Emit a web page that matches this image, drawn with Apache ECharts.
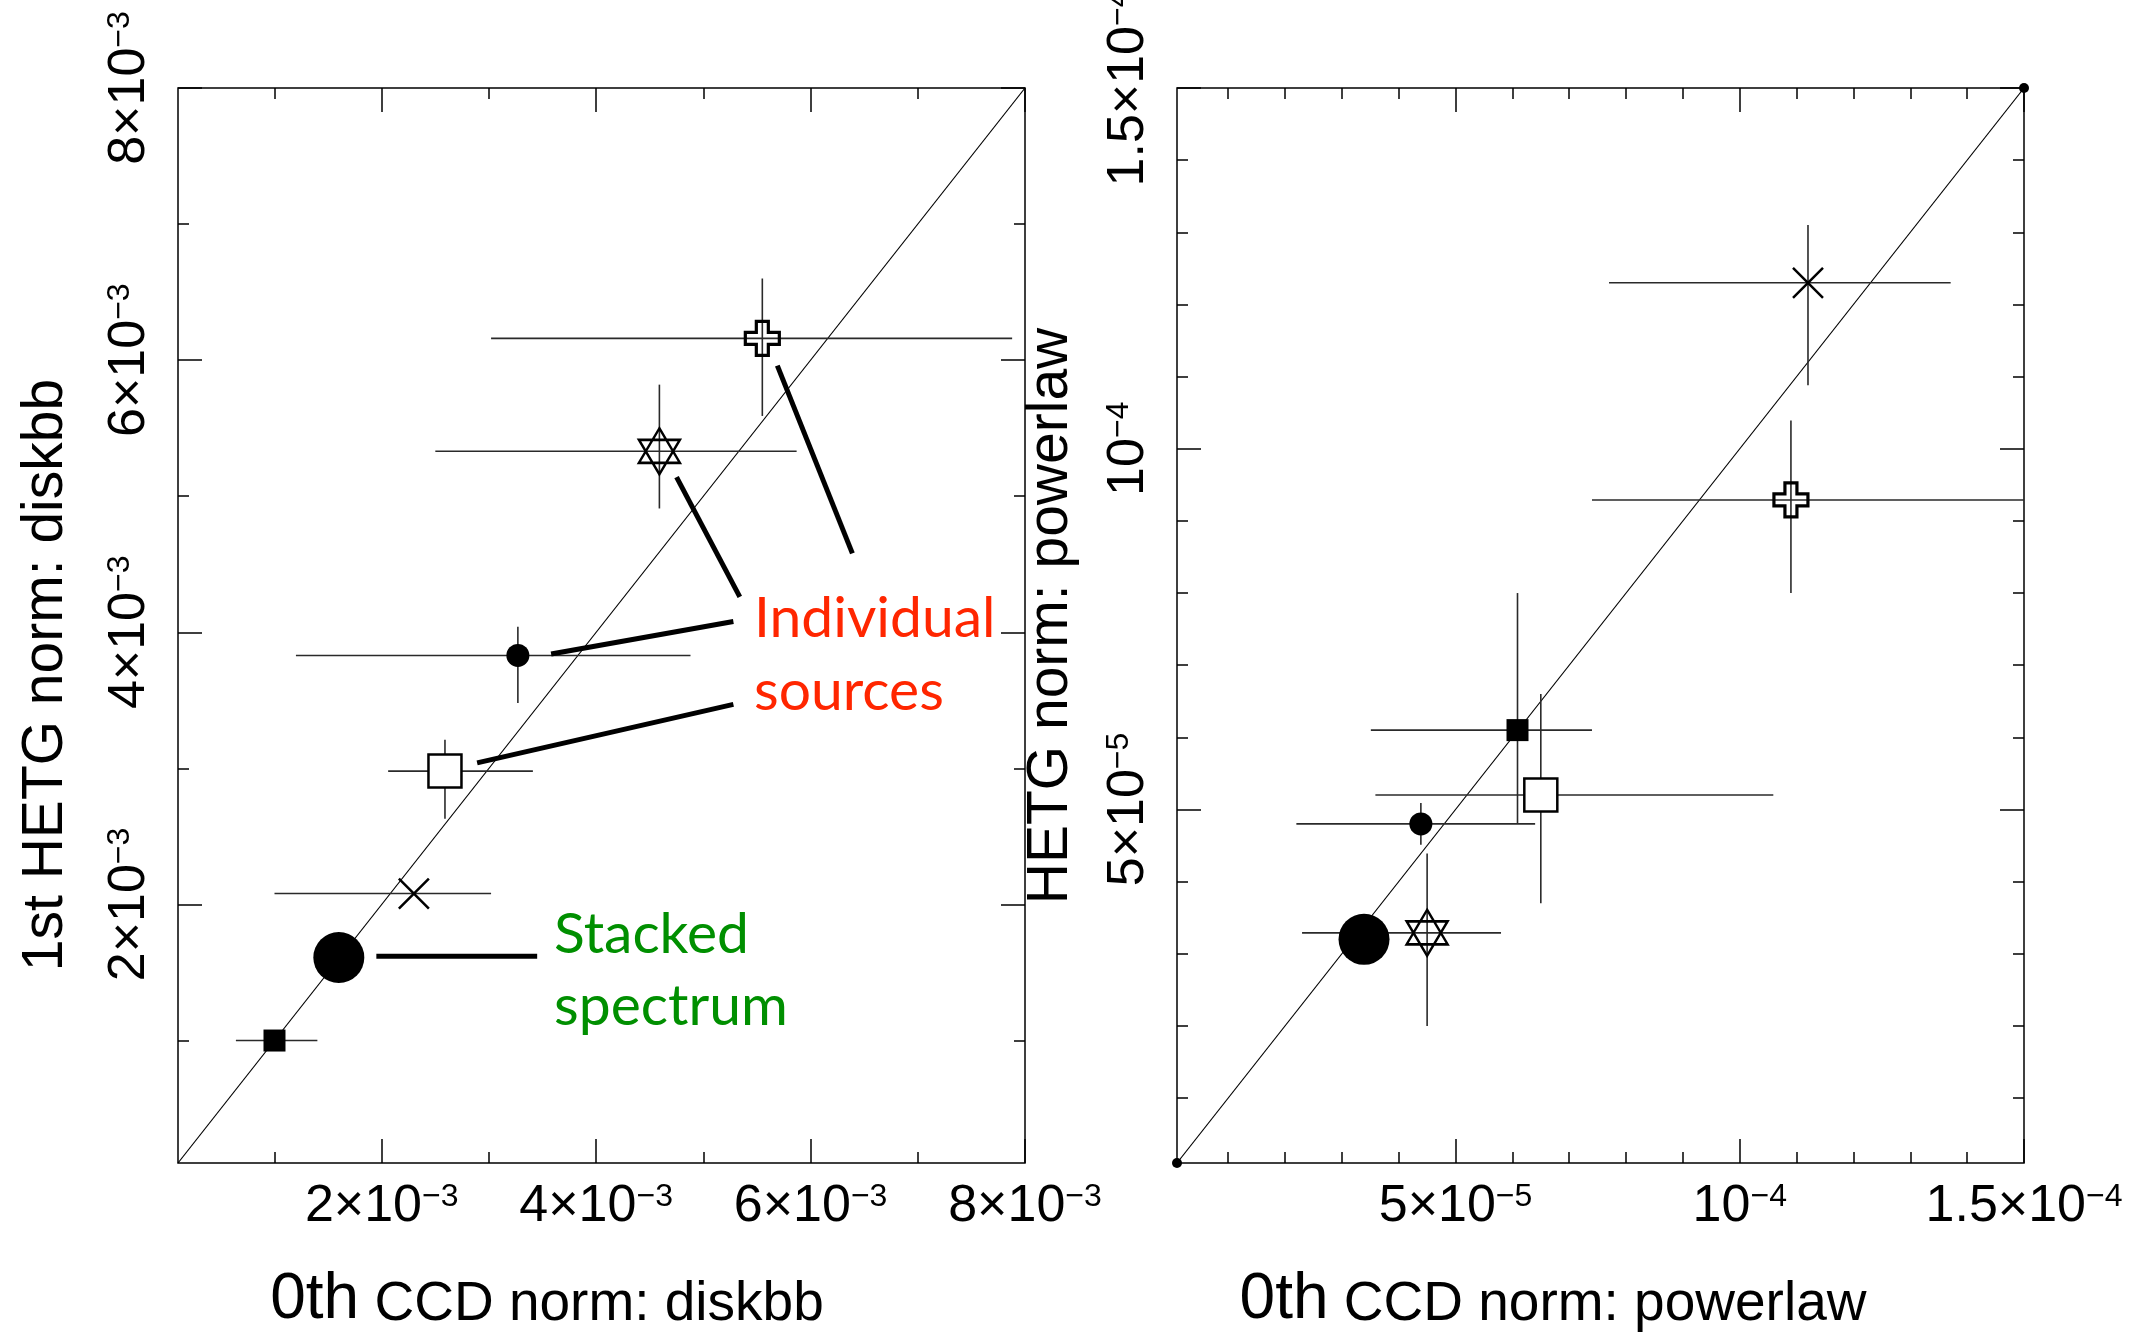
<!DOCTYPE html>
<html>
<head>
<meta charset="utf-8">
<script src="https://cdn.jsdelivr.net/npm/echarts@6/dist/echarts.min.js"></script>
<style>
html, body { margin: 0; padding: 0; background: #fff; }
#chart { width: 2146px; height: 1333px; }
</style>
</head>
<body>
<div id="chart"></div>
<script>
// one entry per source, same order in both panels
var markerKinds = ['filledSquare', 'stacked', 'cross', 'openSquare', 'filledCircle', 'hexagram', 'openPlus'];

// left panel, diskbb norm in units of 1e-3
var diskCcd    = [1.00, 1.60, 2.30, 2.59, 3.27, 4.59, 5.55];
var diskCcdLo  = [0.64, null, 1.00, 2.06, 1.20, 2.50, 3.02];
var diskCcdHi  = [1.40, null, 3.02, 3.41, 4.88, 5.87, 7.88];
var diskHetg   = [1.00, 1.61, 2.08, 2.98, 3.83, 5.33, 6.16];
var diskHetgLo = [null, null, null, 2.63, 3.48, 4.91, 5.59];
var diskHetgHi = [null, null, null, 3.21, 4.04, 5.82, 6.60];

// right panel, powerlaw norm in units of 1e-5
var plawCcd    = [6.09, 3.39, 11.20, 6.50, 4.39, 4.50, 10.90];
var plawCcdLo  = [3.51, null, 7.70, 3.59, 2.20, 2.30, 7.40];
var plawCcdHi  = [7.40, null, 13.71, 10.59, 6.40, 5.80, 15.00];
var plawHetg   = [6.10, 3.20, 12.30, 5.20, 4.80, 3.29, 9.29];
var plawHetgLo = [4.80, null, 10.88, 3.70, 4.51, 2.00, 8.00];
var plawHetgHi = [8.00, null, 13.10, 6.60, 5.09, 4.39, 10.39];

// axis ranges and ticks
var diskRange = [0.1, 8];
var diskMajor = [2, 4, 6, 8];
var diskMinor = [1, 3, 5, 7];
var diskTickText = [['2', '\u22123'], ['4', '\u22123'], ['6', '\u22123'], ['8', '\u22123']];

var plawRange = [0.1, 15];
var plawMajor = [5, 10, 15];
var plawMinor = [1, 2, 3, 4, 6, 7, 8, 9, 11, 12, 13, 14];
var plawTickText = [['5', '\u22125'], ['', '\u22124'], ['1.5', '\u22124']];

// leader lines of the left panel, diskbb units
var leaderX1 = [5.69, 4.75, 3.58, 2.89, 1.95];
var leaderY1 = [5.96, 5.14, 3.84, 3.04, 1.62];
var leaderX2 = [6.39, 5.34, 5.28, 5.28, 3.45];
var leaderY2 = [4.58, 4.26, 4.08, 3.47, 1.62];

var HELV = "'Liberation Sans', Arial, Helvetica, sans-serif";
var HUMAN = "Lato, 'Open Sans', sans-serif";

var markerStyle = {
    filledSquare: { symbol: 'rect', size: 22, fill: '#000' },
    stacked: { symbol: 'circle', size: 51, fill: '#000' },
    cross: { symbol: 'path://M0,0L10,10M10,0L0,10', size: 30, fill: 'transparent', stroke: '#000', width: 2.5 },
    openSquare: { symbol: 'rect', size: 33, fill: '#fff', stroke: '#000', width: 2.5 },
    filledCircle: { symbol: 'circle', size: 23, fill: '#000' },
    hexagram: { symbol: 'path://M50,0L93.3,75L6.7,75ZM50,100L93.3,25L6.7,25Z', size: [41, 46], fill: 'transparent', stroke: '#000', width: 2.5 },
    openPlus: { symbol: 'path://M11,0L23,0L23,11L34,11L34,23L23,23L23,34L11,34L11,23L0,23L0,11L11,11Z', size: 34, fill: 'transparent', stroke: '#000', width: 3.2 }
};

function markerData(xs, ys) {
    return markerKinds.map(function (k, i) {
        var s = markerStyle[k];
        return {
            value: [xs[i], ys[i]],
            symbol: s.symbol,
            symbolSize: s.size,
            itemStyle: { color: s.fill, borderColor: s.stroke || s.fill, borderWidth: s.width || 0, opacity: 1 }
        };
    });
}

function errorSegments(x, xLo, xHi, y, yLo, yHi) {
    var segs = [];
    for (var i = 0; i < x.length; i++) {
        if (xLo[i] != null) segs.push([xLo[i], y[i], xHi[i], y[i]]);
        if (yLo[i] != null) segs.push([x[i], yLo[i], x[i], yHi[i]]);
    }
    return segs;
}

function segmentItem(width, color) {
    return function (params, api) {
        var a = api.coord([api.value(0), api.value(1)]);
        var b = api.coord([api.value(2), api.value(3)]);
        return {
            type: 'line',
            shape: { x1: a[0], y1: a[1], x2: b[0], y2: b[1] },
            style: { stroke: color, lineWidth: width }
        };
    };
}

function tickFormatter(ticks, texts) {
    return function (v) {
        for (var i = 0; i < ticks.length; i++) {
            if (Math.abs(ticks[i] - v) < 1e-9) {
                var t = texts[i];
                return (t[0] ? '{m|' + t[0] + '\u00d710}' : '{m|10}') + '{e|' + t[1] + '}';
            }
        }
        return '';
    };
}

var labelRich = {
    m: { fontSize: 52, fontFamily: HELV, lineHeight: 52, color: '#000' },
    e: { fontSize: 32, fontFamily: HELV, lineHeight: 30, verticalAlign: 'top', color: '#000' }
};

function tick(values, len) {
    return { show: true, inside: true, length: len, customValues: values, lineStyle: { color: '#000', width: 1.5 } };
}

function makeAxes(dim, grid, range, major, minor, texts) {
    var sides = dim === 'x' ? ['bottom', 'top'] : ['left', 'right'];
    var out = [];
    sides.forEach(function (side, si) {
        [[major, 24], [minor, 11]].forEach(function (tk, ti) {
            var withLabel = si === 0 && ti === 0;
            out.push({
                type: 'value',
                gridIndex: grid,
                position: side,
                min: range[0],
                max: range[1],
                axisLine: { show: false },
                splitLine: { show: false },
                minorTick: { show: false },
                axisTick: tick(tk[0], tk[1]),
                axisLabel: withLabel ? {
                    show: true,
                    customValues: major,
                    formatter: tickFormatter(major, texts),
                    rich: labelRich,
                    rotate: dim === 'y' ? 90 : 0,
                    margin: dim === 'y' ? 22 : 18
                } : { show: false, customValues: tk[0] }
            });
        });
    });
    return out;
}

var xAxes = makeAxes('x', 0, diskRange, diskMajor, diskMinor, diskTickText)
    .concat(makeAxes('x', 1, plawRange, plawMajor, plawMinor, plawTickText));
var yAxes = makeAxes('y', 0, diskRange, diskMajor, diskMinor, diskTickText)
    .concat(makeAxes('y', 1, plawRange, plawMajor, plawMinor, plawTickText));

function panelSeries(ax, range, x, xLo, xHi, y, yLo, yHi, endDots) {
    return [{
        type: 'line',
        xAxisIndex: ax, yAxisIndex: ax,
        data: [[range[0], range[0]], [range[1], range[1]]],
        symbol: endDots ? 'circle' : 'none',
        symbolSize: 10,
        itemStyle: { color: '#000' },
        lineStyle: { color: '#000', width: 1.2 },
        clip: false, silent: true, z: 2
    }, {
        type: 'custom',
        xAxisIndex: ax, yAxisIndex: ax,
        data: errorSegments(x, xLo, xHi, y, yLo, yHi),
        encode: { x: [0, 2], y: [1, 3] },
        renderItem: segmentItem(1.6, '#2a2a2a'),
        clip: true, silent: true, z: 3
    }, {
        type: 'scatter',
        xAxisIndex: ax, yAxisIndex: ax,
        data: markerData(x, y),
        itemStyle: { opacity: 1 },
        silent: true, z: 5
    }];
}

var leaders = leaderX1.map(function (v, i) { return [v, leaderY1[i], leaderX2[i], leaderY2[i]]; });

var titleRich = {
    a: { fontSize: 64, fontFamily: HELV, lineHeight: 54, verticalAlign: 'bottom', fill: '#000' },
    b: { fontSize: 55, fontFamily: HELV, lineHeight: 55, verticalAlign: 'bottom', fill: '#000' }
};

var chart = echarts.init(document.getElementById('chart'));
chart.setOption({
    backgroundColor: '#fff',
    animation: false,
    grid: [
        { left: 178, top: 88, width: 847, height: 1075, show: true, borderColor: '#000', borderWidth: 1.5, outerBoundsMode: 'none', containLabel: false },
        { left: 1177, top: 88, width: 847, height: 1075, show: true, borderColor: '#000', borderWidth: 1.5, outerBoundsMode: 'none', containLabel: false }
    ],
    xAxis: xAxes,
    yAxis: yAxes,
    series: panelSeries(0, diskRange, diskCcd, diskCcdLo, diskCcdHi, diskHetg, diskHetgLo, diskHetgHi, false)
        .concat(panelSeries(4, plawRange, plawCcd, plawCcdLo, plawCcdHi, plawHetg, plawHetgLo, plawHetgHi, true))
        .concat([{
            type: 'custom',
            xAxisIndex: 0, yAxisIndex: 0,
            data: leaders,
            encode: { x: [0, 2], y: [1, 3] },
            renderItem: segmentItem(5, '#000'),
            silent: true, z: 4
        }]),
    graphic: [
        { type: 'text', x: 754, y: 619, style: { text: 'Individual', font: '57px ' + HUMAN, fill: '#ff2600', verticalAlign: 'middle' } },
        { type: 'text', x: 754, y: 692, style: { text: 'sources', font: '57px ' + HUMAN, fill: '#ff2600', verticalAlign: 'middle' } },
        { type: 'text', x: 554, y: 935, style: { text: 'Stacked', font: '57px ' + HUMAN, fill: '#008f00', verticalAlign: 'middle' } },
        { type: 'text', x: 554, y: 1007, style: { text: 'spectrum', font: '57px ' + HUMAN, fill: '#008f00', verticalAlign: 'middle' } },
        {
            type: 'text', x: 547, y: 1305,
            style: { text: '{a|0th}{b| CCD norm: diskbb}', align: 'center', verticalAlign: 'middle', rich: titleRich }
        },
        {
            type: 'text', x: 1553, y: 1305,
            style: { text: '{a|0th}{b| CCD norm: powerlaw}', align: 'center', verticalAlign: 'middle', rich: titleRich }
        },
        { type: 'text', x: 46, y: 675, rotation: Math.PI / 2, style: { text: '1st HETG norm: diskbb', font: '57px ' + HELV, fill: '#000', align: 'center', verticalAlign: 'middle' } },
        { type: 'text', x: 1051, y: 616, rotation: Math.PI / 2, style: { text: 'HETG norm: powerlaw', font: '57px ' + HELV, fill: '#000', align: 'center', verticalAlign: 'middle' } }
    ]
});
</script>
</body>
</html>
